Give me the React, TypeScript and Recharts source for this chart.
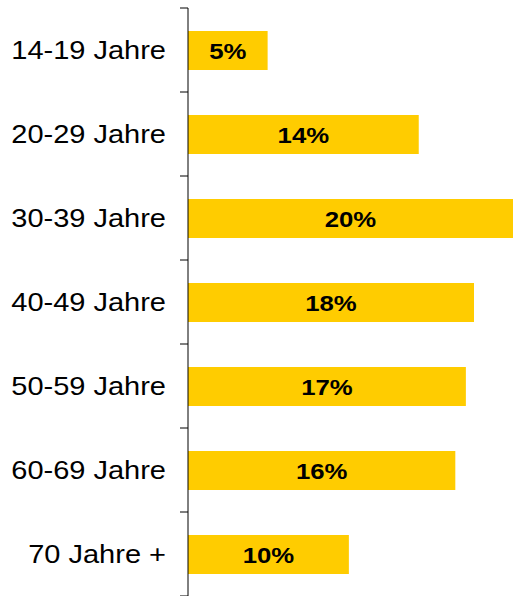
import { BarChart, Bar, XAxis, YAxis, LabelList } from "recharts";

const ageGroups = [
  "14-19 Jahre",
  "20-29 Jahre",
  "30-39 Jahre",
  "40-49 Jahre",
  "50-59 Jahre",
  "60-69 Jahre",
  "70 Jahre +",
];
const shares = [4.9, 14.2, 20, 17.6, 17.1, 16.45, 9.9];

const data = ageGroups.map((group, i) => ({ group, share: shares[i] }));

const FONT = "'Liberation Sans', Arial, sans-serif";
const BAND = 84;

function AgeTick(props: any) {
  const { x, y, payload, index } = props;
  const axisX = x + 8;
  const last = index === ageGroups.length - 1;
  return (
    <g>
      <line x1={axisX - 8} x2={axisX} y1={y - BAND / 2} y2={y - BAND / 2} stroke="#000" strokeWidth={1} />
      {last && (
        <line x1={axisX - 8} x2={axisX} y1={y + BAND / 2} y2={y + BAND / 2} stroke="#000" strokeWidth={1} />
      )}
      <text
        transform={`translate(${axisX - 22},${y + 9}) scale(1.16,1)`}
        textAnchor="end"
        fontFamily={FONT}
        fontSize={25}
        fill="#000"
      >
        {payload.value}
      </text>
    </g>
  );
}

function ShareLabel(props: any) {
  const { x, y, width, height, value } = props;
  const cx = x + width / 2;
  const cy = y + height / 2;
  return (
    <text
      transform={`translate(${cx},${cy + 8}) scale(1.12,1)`}
      textAnchor="middle"
      fontFamily={FONT}
      fontSize={23}
      fontWeight="bold"
      fill="#000"
    >
      {`${Math.round(value)}%`}
    </text>
  );
}

export default function App() {
  return (
    <div style={{ position: "absolute", left: 0, top: 0, background: "#fff" }}>
      <BarChart
        width={513}
        height={596}
        data={data}
        layout="vertical"
        margin={{ top: 8, right: 0, left: 0, bottom: 0 }}
      >
        <XAxis type="number" domain={[0, 20]} hide />
        <YAxis
          type="category"
          dataKey="group"
          width={188}
          axisLine={{ stroke: "#000", strokeWidth: 1 }}
          tickLine={false}
          tickSize={0}
          tickMargin={8}
          interval={0}
          tick={<AgeTick />}
        />
        <Bar dataKey="share" fill="#FFCC00" barSize={39} isAnimationActive={false}>
          <LabelList dataKey="share" content={<ShareLabel />} />
        </Bar>
      </BarChart>
    </div>
  );
}
